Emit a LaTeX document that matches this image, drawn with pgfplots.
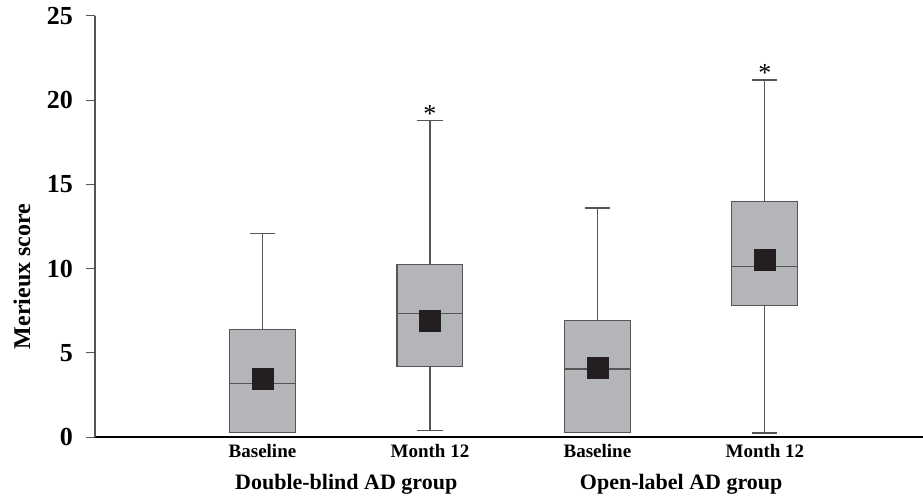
\documentclass[border=0pt]{standalone}
\usepackage{fontspec}
\setmainfont{Liberation Serif}
\usepackage{pgfplots}
\pgfplotsset{compat=1.18}
\usepgfplotslibrary{statistics}
\definecolor{boxgray}{RGB}{180,181,185}
\definecolor{linegray}{RGB}{85,85,85}
\definecolor{meanblack}{RGB}{35,31,32}
\begin{document}
\begin{tikzpicture}
\begin{axis}[
  scale only axis, width=828pt, height=421pt,
  xmin=0, xmax=4.944, ymin=0, ymax=25,
  axis lines=left,
  clip=false,
  ytick={0,5,10,15,20,25},
  xtick={1,2,3,4},
  xticklabels={Baseline,Month 12,Baseline,Month 12},
  /pgf/number format/assume math mode=true,
  x tick label style={font=\bfseries\fontsize{19}{22}\selectfont, yshift=5pt},
  y tick label style={font=\bfseries\fontsize{26}{30}\selectfont, inner sep=4pt, xshift=-9pt},
  tick align=outside, major tick length=9pt,
  xtick style={draw=none},
  ytick style={linegray, line width=1pt},
  x axis line style={-, black, line width=1.2pt},
  y axis line style={-, linegray, line width=1.2pt},
  boxplot/draw direction=y,
  boxplot/box extend=0.394,
  boxplot/whisker extend=0.15,
]
\addplot[boxplot prepared={draw position=1, lower whisker=0.25, lower quartile=0.25, median=3.2, upper quartile=6.4, upper whisker=12.1}, draw=linegray, fill=boxgray, line width=1.1pt] coordinates {};
\addplot[boxplot prepared={draw position=2, lower whisker=0.36, lower quartile=4.16, median=7.36, upper quartile=10.27, upper whisker=18.8}, draw=linegray, fill=boxgray, line width=1.1pt] coordinates {};
\addplot[boxplot prepared={draw position=3, lower whisker=0.25, lower quartile=0.25, median=4.04, upper quartile=6.9, upper whisker=13.6}, draw=linegray, fill=boxgray, line width=1.1pt] coordinates {};
\addplot[boxplot prepared={draw position=4, lower whisker=0.24, lower quartile=7.8, median=10.1, upper quartile=14.0, upper whisker=21.2}, draw=linegray, fill=boxgray, line width=1.1pt] coordinates {};
\addplot[only marks, mark=square*, mark size=10.5pt, mark options={draw=meanblack, fill=meanblack}] coordinates {(1,3.47) (2,6.93) (3,4.1) (4,10.53)};
\node[anchor=south, inner sep=0pt, font=\fontsize{26}{30}\selectfont] at ([yshift=-2pt]axis cs:2,18.8) {*};
\node[anchor=south, inner sep=0pt, font=\fontsize{26}{30}\selectfont] at ([yshift=-2pt]axis cs:4,21.2) {*};
\node[anchor=base, font=\bfseries\fontsize{22}{26}\selectfont] at ([yshift=-52pt]axis cs:1.5,0) {Double-blind AD group};
\node[anchor=base, font=\bfseries\fontsize{22}{26}\selectfont] at ([yshift=-52pt]axis cs:3.5,0) {Open-label AD group};
\node[rotate=90, font=\bfseries\fontsize{24}{28}\selectfont] at ([xshift=-73pt]axis cs:0,9.53) {Merieux score};
\end{axis}
\pgfresetboundingbox
\path[use as bounding box] (-95pt,-58pt) rectangle (828pt,437pt);
\end{tikzpicture}
\end{document}
